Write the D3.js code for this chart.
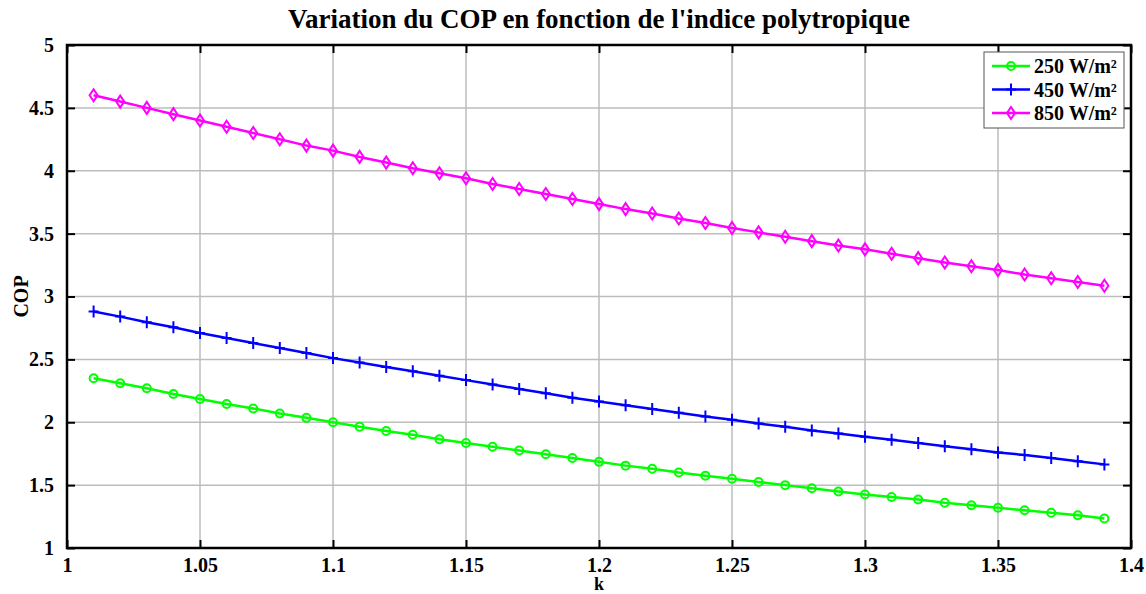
<!DOCTYPE html>
<html>
<head>
<meta charset="utf-8">
<script src="https://cdn.jsdelivr.net/npm/d3@7"></script>
<style>
  body { margin: 0; background: #fff; }
  text { font-family: "Liberation Serif", "Times New Roman", serif; font-weight: bold; }
</style>
</head>
<body>
<div class="chart"></div>
<script>
var svgWidth = 1146;
var svgHeight = 594;

var margin = { top: 45, right: 15, bottom: 46, left: 67 };
var width = svgWidth - margin.left - margin.right;
var height = svgHeight - margin.top - margin.bottom;

// data
var kValues = [1.01, 1.02, 1.03, 1.04, 1.05, 1.06, 1.07, 1.08, 1.09, 1.10,
  1.11, 1.12, 1.13, 1.14, 1.15, 1.16, 1.17, 1.18, 1.19, 1.20,
  1.21, 1.22, 1.23, 1.24, 1.25, 1.26, 1.27, 1.28, 1.29, 1.30,
  1.31, 1.32, 1.33, 1.34, 1.35, 1.36, 1.37, 1.38, 1.39];

var cop250 = [2.35, 2.31, 2.27, 2.225, 2.185, 2.145, 2.11, 2.07, 2.035, 2.0,
  1.965, 1.93, 1.9, 1.865, 1.835, 1.805, 1.775, 1.745, 1.715, 1.685,
  1.655, 1.63, 1.6, 1.575, 1.55, 1.525, 1.5, 1.475, 1.45, 1.425,
  1.405, 1.385, 1.36, 1.34, 1.32, 1.3, 1.28, 1.26, 1.235];

var cop450 = [2.88, 2.84, 2.795, 2.755, 2.71, 2.67, 2.63, 2.59, 2.55, 2.51,
  2.475, 2.44, 2.405, 2.37, 2.335, 2.3, 2.265, 2.23, 2.195, 2.165,
  2.135, 2.105, 2.075, 2.045, 2.02, 1.99, 1.965, 1.935, 1.91, 1.885,
  1.86, 1.835, 1.81, 1.785, 1.76, 1.74, 1.715, 1.69, 1.665];

var cop850 = [4.6, 4.55, 4.5, 4.45, 4.4, 4.35, 4.3, 4.25, 4.2, 4.16,
  4.11, 4.065, 4.02, 3.98, 3.94, 3.895, 3.855, 3.815, 3.775, 3.735,
  3.695, 3.66, 3.62, 3.585, 3.545, 3.51, 3.475, 3.44, 3.405, 3.375,
  3.34, 3.305, 3.27, 3.24, 3.21, 3.175, 3.145, 3.115, 3.085];

var xTicks = [1, 1.05, 1.1, 1.15, 1.2, 1.25, 1.3, 1.35, 1.4];
var yTicks = [1, 1.5, 2, 2.5, 3, 3.5, 4, 4.5, 5];

var seriesNames = ["250 W/m²", "450 W/m²", "850 W/m²"];
var seriesColors = ["#00ff00", "#0000ff", "#ff00ff"];
var seriesMarkers = ["circle", "plus", "diamond"];
var seriesValues = [cop250, cop450, cop850];

var svg = d3.select(".chart").append("svg")
  .attr("width", svgWidth)
  .attr("height", svgHeight);

var chart = svg.append("g")
  .attr("transform", "translate(" + margin.left + "," + margin.top + ")");

var x = d3.scaleLinear().domain([1, 1.4]).range([0, width]);
var y = d3.scaleLinear().domain([1, 5]).range([height, 0]);

// grid
chart.append("g").selectAll("line").data(xTicks.slice(1, -1)).enter().append("line")
  .attr("x1", d => x(d)).attr("x2", d => x(d))
  .attr("y1", 0).attr("y2", height)
  .attr("stroke", "#bdbdbd").attr("stroke-width", 1.5);
chart.append("g").selectAll("line").data(yTicks.slice(1, -1)).enter().append("line")
  .attr("y1", d => y(d)).attr("y2", d => y(d))
  .attr("x1", 0).attr("x2", width)
  .attr("stroke", "#bdbdbd").attr("stroke-width", 1.5);

// axes, ticks pointing inward on all four sides
function styleAxis(g) {
  g.select(".domain").remove();
  g.selectAll(".tick line").attr("stroke", "#000").attr("stroke-width", 2);
  g.selectAll(".tick text").attr("font-size", 20).attr("fill", "#000");
}
var fmt = d3.format("");
chart.append("g").attr("transform", "translate(0," + height + ")")
  .call(d3.axisBottom(x).tickValues(xTicks).tickSizeInner(-8).tickSizeOuter(0).tickPadding(10).tickFormat(fmt))
  .call(styleAxis);
chart.append("g")
  .call(d3.axisTop(x).tickValues(xTicks).tickSizeInner(-8).tickSizeOuter(0).tickFormat(""))
  .call(styleAxis);
chart.append("g")
  .call(d3.axisLeft(y).tickValues(yTicks).tickSizeInner(-8).tickSizeOuter(0).tickPadding(13).tickFormat(fmt))
  .call(styleAxis);
chart.append("g").attr("transform", "translate(" + width + ",0)")
  .call(d3.axisRight(y).tickValues(yTicks).tickSizeInner(-8).tickSizeOuter(0).tickFormat(""))
  .call(styleAxis);

chart.append("rect")
  .attr("width", width).attr("height", height)
  .attr("fill", "none").attr("stroke", "#000").attr("stroke-width", 2.5);

// markers
function drawMarker(g, type, color) {
  if (type === "circle") {
    g.append("circle").attr("r", 4).attr("fill", "none")
      .attr("stroke", color).attr("stroke-width", 2);
  } else if (type === "plus") {
    g.append("path").attr("d", "M-5,0H5M0,-6V6")
      .attr("stroke", color).attr("stroke-width", 2);
  } else {
    g.append("path").attr("d", "M0,-6L4,0L0,6L-4,0Z").attr("fill", "none")
      .attr("stroke", color).attr("stroke-width", 2);
  }
}

var line = d3.line().x(d => x(d[0])).y(d => y(d[1]));

seriesValues.forEach(function(vals, i) {
  var pts = kValues.map((k, j) => [k, vals[j]]);
  chart.append("path").datum(pts)
    .attr("d", line)
    .attr("fill", "none")
    .attr("stroke", seriesColors[i])
    .attr("stroke-width", 2.5);
  chart.append("g").selectAll("g").data(pts).enter().append("g")
    .attr("transform", d => "translate(" + x(d[0]) + "," + y(d[1]) + ")")
    .each(function() { drawMarker(d3.select(this), seriesMarkers[i], seriesColors[i]); });
});

// legend
var legend = chart.append("g").attr("transform", "translate(" + (width - 147) + ",7)");
legend.append("rect")
  .attr("width", 140).attr("height", 76)
  .attr("fill", "#fff").attr("stroke", "#555").attr("stroke-width", 1);
seriesNames.forEach(function(name, i) {
  var row = legend.append("g").attr("transform", "translate(0," + (14 + i * 23.5) + ")");
  row.append("line").attr("x1", 8).attr("x2", 46)
    .attr("stroke", seriesColors[i]).attr("stroke-width", 2.5);
  drawMarker(row.append("g").attr("transform", "translate(27,0)"), seriesMarkers[i], seriesColors[i]);
  row.append("text").attr("x", 50).attr("y", 7)
    .attr("font-size", 20).text(name);
});

// titles
svg.append("text")
  .attr("x", margin.left + width / 2).attr("y", 28)
  .attr("text-anchor", "middle").attr("font-size", 27)
  .text("Variation du COP en fonction de l'indice polytropique");
svg.append("text")
  .attr("x", margin.left + width / 2).attr("y", 590)
  .attr("text-anchor", "middle").attr("font-size", 18)
  .text("k");
svg.append("text")
  .attr("transform", "translate(28," + (margin.top + height / 2) + ") rotate(-90)")
  .attr("text-anchor", "middle").attr("font-size", 20)
  .text("COP");
</script>
</body>
</html>
